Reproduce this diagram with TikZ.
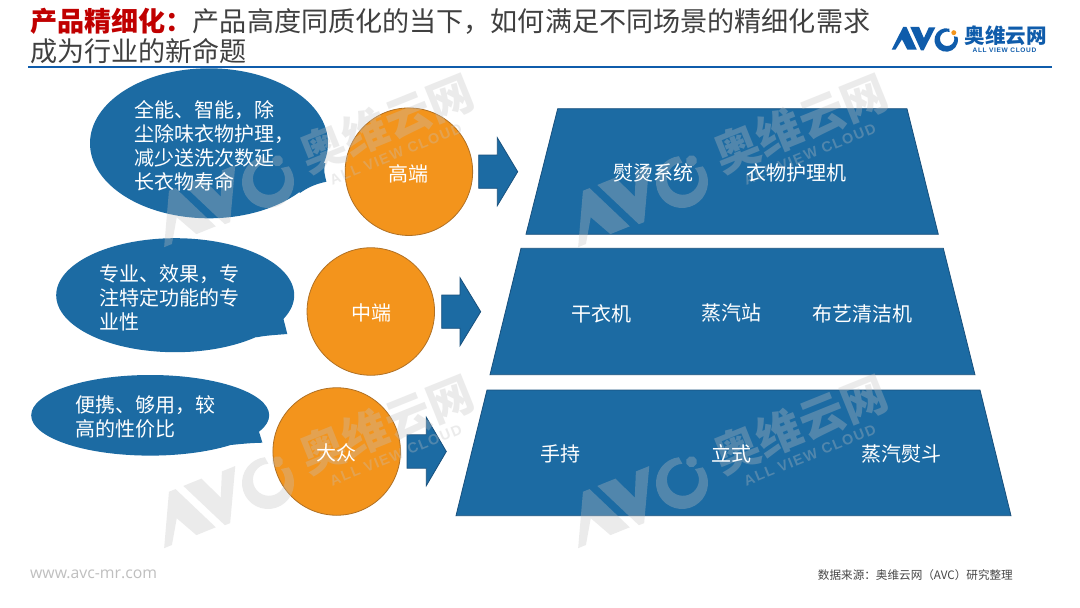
\documentclass[tikz,border=0pt]{standalone}
\usepackage{fontspec}
\setmainfont{Noto Sans CJK SC}
\newfontfamily\webfont{Open Sans}
\newfontfamily\capfont[LetterSpace=10]{Liberation Sans}
\definecolor{avcblue}{RGB}{28,107,163}
\definecolor{avcedge}{RGB}{24,80,125}
\definecolor{avcorange}{RGB}{243,148,28}
\definecolor{orangeedge}{RGB}{176,112,36}
\definecolor{titlegray}{RGB}{64,64,64}
\definecolor{titlered}{RGB}{192,0,0}
\definecolor{logoblue}{RGB}{15,92,171}
\definecolor{logoorange}{RGB}{243,148,28}
\definecolor{markgray}{RGB}{194,194,194}
\tikzset{
  panel/.style={fill=avcblue,draw=avcedge,line width=0.8pt,line join=miter},
  blockarrow/.style={fill=avcblue,draw=avcedge,line width=0.8pt},
  bubble/.style={fill=avcblue},
  disc/.style={circle,minimum size=127.5pt,inner sep=0pt,fill=avcorange,draw=orangeedge,line width=0.8pt},
  whitetext/.style={text=white,inner sep=0pt,font=\fontsize{20}{24}\selectfont},
  bubbletext/.style={whitetext,anchor=west,align=left},
}
% brand mark in local units: the C ring is centred at the origin
\newcommand\avcmark[3]{%
  \fill[#2] (-120.7,21.5)--(-95.1,-29)--(-88,-29)--(-65,21.5)--(-85.9,21.5)--(-97.8,-1.5)--(-112.3,21.5)--cycle;
  \fill[#2] (-79.6,-29)--(-60,-29)--(-49.3,-4.1)--(-38.4,-28)--(-24,-28)--(-50.1,23)--(-55.8,23)--cycle;
  \fill[#2] (285:26) arc[start angle=285,end angle=-15,radius=26]
     -- (17.1,-8.1) arc[start angle=-20,end angle=290,radius=16] -- cycle;
  \fill[#3] (16.8,-16.2) circle[radius=5.5];
  \node[text=#2,inner sep=0pt,transform shape,font=\fontsize{45.5}{45.5}\selectfont\bfseries] (#1cn) at (132,-10) {奥维云网};
  \node[text=#2,inner sep=0pt,transform shape,font=\fontsize{14.5}{15}\selectfont\capfont\bfseries] (#1en) at (129,22) {ALL VIEW CLOUD};
}
\begin{document}
\begin{tikzpicture}[x=1pt,y=-1pt]
\useasboundingbox (0,0) rectangle (1080,608);
\fill[white] (0,0) rectangle (1080,608);

% title and rule
\node[anchor=west,align=left,inner sep=0pt,text=titlegray,font=\fontsize{27.1}{29.5}\selectfont] (title) at (30,36)
  {{\bfseries\color{titlered}产品精细化：}产品高度同质化的当下，如何满足不同场景的精细化需求\\成为行业的新命题};
\draw[line width=2.4pt,draw=logoblue] (28,66.7) -- (1052,66.7);

% top-right logo
\begin{scope}[shift={(946.2,40)},scale=0.452]
  \avcmark{logo}{logoblue}{logoorange}
\end{scope}

% speech bubbles
\fill[bubble] (209,143.3) ellipse[x radius=119,y radius=75];
\fill[bubble] (325.4,163) .. controls (323,170) and (325,176) .. (326.4,181.7)
   .. controls (315,184) and (307,188) .. (300,193) -- (280,170) -- cycle;
\fill[bubble] (175.2,295.2) ellipse[x radius=119,y radius=57];
\fill[bubble] (283.3,318.3) -- (287.3,334) .. controls (275,335) and (265,335.5) .. (256.7,337.3) -- (240,320) -- cycle;
\fill[bubble] (150.2,415.3) ellipse[x radius=119,y radius=40.3];
\fill[bubble] (259,431.7) -- (262.4,442.7) .. controls (250,443) and (240,444) .. (230.7,445) -- (215,430) -- cycle;

% discs
\node[disc] (high) at (408.9,171.7) {};
\node[disc] (mid) at (370.8,311.5) {};
\node[disc] (mass) at (336.7,451.5) {};

% block arrows
\draw[blockarrow] (478.7,155)--(497.3,155)--(497.3,137.7)--(517.7,171.7)--(497.3,205.7)--(497.3,188.3)--(478.7,188.3)--cycle;
\draw[blockarrow] (441.7,295)--(460,295)--(460,277.7)--(480.7,311.7)--(460,345.7)--(460,328.3)--(441.7,328.3)--cycle;
\draw[blockarrow] (407,434.8)--(426.3,434.8)--(426.3,417.3)--(446.3,451.5)--(426.3,485.7)--(426.3,468.2)--(407,468.2)--cycle;

% trapezoids
\draw[panel] (557.7,108.7)--(907,108.7)--(938.3,234.3)--(526,234.3)--cycle;
\draw[panel] (521,248.3)--(943.3,248.3)--(975,374.7)--(490,374.7)--cycle;
\draw[panel] (487,390)--(980,390)--(1011,515.7)--(456,515.7)--cycle;

% watermarks
\begin{scope}[opacity=0.32]
  \begin{scope}[shift={(268,182)},rotate=22] \avcmark{wa}{markgray}{markgray} \end{scope}
  \begin{scope}[shift={(682,182)},rotate=22] \avcmark{wb}{markgray}{markgray} \end{scope}
  \begin{scope}[shift={(268,483)},rotate=22] \avcmark{wc}{markgray}{markgray} \end{scope}
  \begin{scope}[shift={(682,483)},rotate=22] \avcmark{wd}{markgray}{markgray} \end{scope}
\end{scope}

% bubble texts
\node[bubbletext] (t1) at (134.3,146) {全能、智能，除\\尘除味衣物护理，\\减少送洗次数延\\长衣物寿命};
\node[bubbletext] (t2) at (99.7,297.5) {专业、效果，专\\注特定功能的专\\业性};
\node[bubbletext] (t3) at (75,417) {便携、够用，较\\高的性价比};

% disc labels
\node[whitetext] (lhigh) at (408.8,174) {高端};
\node[whitetext] (lmid) at (371.7,313.3) {中端};
\node[whitetext] (lmass) at (336.7,453) {大众};

% panel labels
\node[whitetext] (p11) at (653.3,173.3) {熨烫系统};
\node[whitetext] (p12) at (796.7,173.3) {衣物护理机};
\node[whitetext] (p21) at (601.7,314) {干衣机};
\node[whitetext] (p22) at (731.7,313.3) {蒸汽站};
\node[whitetext] (p23) at (862.7,314.3) {布艺清洁机};
\node[whitetext] (p31) at (560.7,454.3) {手持};
\node[whitetext] (p32) at (731,454.3) {立式};
\node[whitetext] (p33) at (901,454.3) {蒸汽熨斗};

% footer
\node[anchor=west,inner sep=0pt,text=black!25,font=\fontsize{15.8}{17}\selectfont\webfont] (web) at (30,574) {www.avc-mr.com};
\node[anchor=east,inner sep=0pt,text=black!72,font=\fontsize{11.6}{14}\selectfont] (src) at (1013,575.5) {数据来源：奥维云网（AVC）研究整理};
\end{tikzpicture}
\end{document}
